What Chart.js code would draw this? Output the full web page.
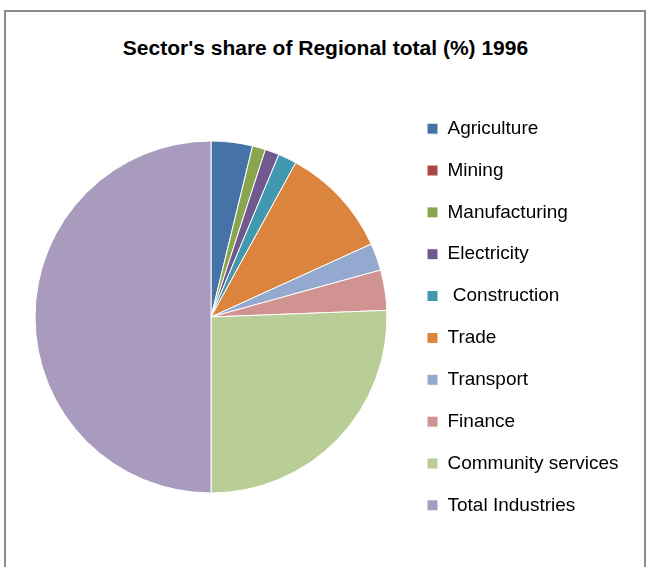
<!DOCTYPE html>
<html>
<head>
<meta charset="utf-8">
<script src="https://cdn.jsdelivr.net/npm/chart.js@4/dist/chart.umd.min.js"></script>
<style>
  html, body { margin: 0; padding: 0; background: #fff; overflow: hidden; }
  #frame {
    position: absolute; left: 4px; top: 10px; width: 638px; height: 600px;
    border: 2px solid #8c8c8c;
  }
  #title {
    position: absolute; left: 0; top: 36px; width: 651px; line-height: 21px;
    text-align: center; font: bold 21px "Liberation Sans", Arial, sans-serif; color: #000;
  }
  #chart { position: absolute; left: 0; top: 0; }
</style>
</head>
<body>
<div id="frame"></div>
<div id="title">Sector's share of Regional total (%) 1996</div>
<canvas id="chart" width="647" height="567"></canvas>
<script>
// sector shares, percent of the regional total
const sectors = ['Agriculture', 'Mining', 'Manufacturing', 'Electricity', ' Construction',
  'Trade', 'Transport', 'Finance', 'Community services', 'Total Industries'];
const shares = [3.8, 0, 1.2, 1.3, 1.7, 10.2, 2.5, 3.7, 25.6, 50.0];
const colours = ['#4572A7', '#AA4643', '#89A54E', '#71588F', '#4198AF',
  '#DB843D', '#93A9CF', '#D19392', '#B9CD96', '#A99BBD'];

const ctx = document.getElementById('chart').getContext('2d');

// legend sizing: pie centred at x=211, legend boxes starting at x=427
const fontSize = 19;
const fontFamily = '"Liberation Sans", Arial, sans-serif';
const boxSize = 11;
const rowPad = 22.85;
const legendLeft = 427 - rowPad;
ctx.font = fontSize + 'px ' + fontFamily;
const textW = Math.max(...sectors.map((s) => ctx.measureText(s).width));
const legendW = rowPad + boxSize + fontSize / 2 + textW;

new Chart(ctx, {
  type: 'pie',
  data: {
    labels: sectors,
    datasets: [{
      data: shares,
      backgroundColor: colours,
      borderColor: '#fff',
      borderWidth: 1
    }]
  },
  options: {
    responsive: false,
    animation: false,
    radius: 176,
    layout: { padding: { left: 422 - legendLeft, right: 647 - legendLeft - legendW, top: 67, bottom: 0 } },
    plugins: {
      tooltip: { enabled: false },
      legend: {
        position: 'right',
        maxWidth: legendW,
        labels: {
          boxWidth: boxSize,
          boxHeight: boxSize,
          padding: rowPad,
          color: '#000',
          font: { family: fontFamily, size: fontSize }
        }
      }
    }
  }
});
</script>
</body>
</html>
